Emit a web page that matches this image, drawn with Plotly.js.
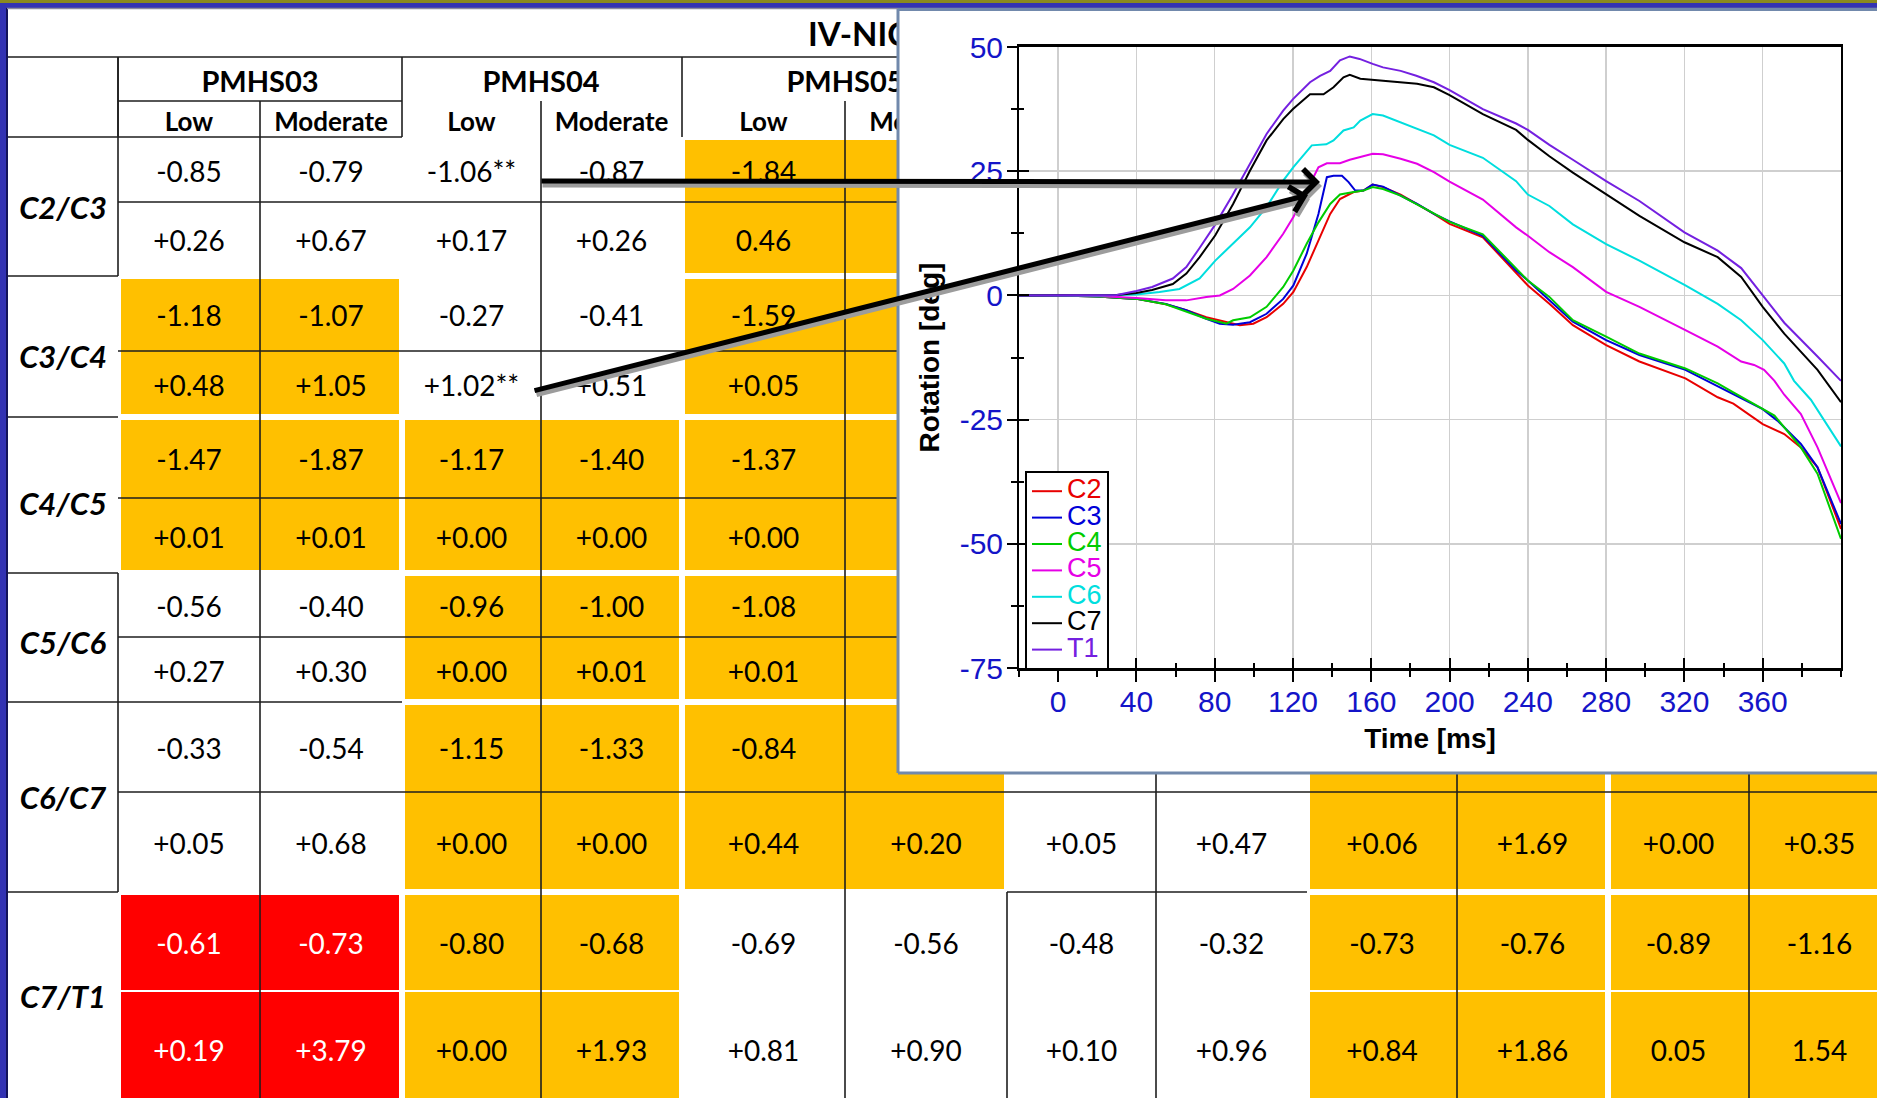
<!DOCTYPE html>
<html><head><meta charset="utf-8">
<script src="https://cdn.plot.ly/plotly-3.0.1.min.js"></script>
<style>html,body{margin:0;padding:0;background:#3333b3;overflow:hidden}</style>
</head><body><div id="chart" style="width:1877px;height:1098px"></div>
<script>
// ================= TABLE DATA =================
const tableTitle = 'IV-NIC';
const levels = ['C2/C3', 'C3/C4', 'C4/C5', 'C5/C6', 'C6/C7', 'C7/T1'];
const subjects = ['PMHS03', 'PMHS04', 'PMHS05', 'PMHS06', 'PMHS07', 'PMHS08'];
const speeds = ['Low', 'Moderate'];
// minimum (negative) values per level, 12 columns (Low/Moderate for each subject); '' = hidden by the inset
const negValues = [
  ['-0.85', '-0.79', '-1.06**', '-0.87', '-1.84', '', '', '', '', '', '', ''],
  ['-1.18', '-1.07', '-0.27', '-0.41', '-1.59', '', '', '', '', '', '', ''],
  ['-1.47', '-1.87', '-1.17', '-1.40', '-1.37', '', '', '', '', '', '', ''],
  ['-0.56', '-0.40', '-0.96', '-1.00', '-1.08', '', '', '', '', '', '', ''],
  ['-0.33', '-0.54', '-1.15', '-1.33', '-0.84', '', '', '', '', '', '', ''],
  ['-0.61', '-0.73', '-0.80', '-0.68', '-0.69', '-0.56', '-0.48', '-0.32', '-0.73', '-0.76', '-0.89', '-1.16']
];
// maximum (positive) values per level
const posValues = [
  ['+0.26', '+0.67', '+0.17', '+0.26', '0.46', '', '', '', '', '', '', ''],
  ['+0.48', '+1.05', '+1.02**', '+0.51', '+0.05', '', '', '', '', '', '', ''],
  ['+0.01', '+0.01', '+0.00', '+0.00', '+0.00', '', '', '', '', '', '', ''],
  ['+0.27', '+0.30', '+0.00', '+0.01', '+0.01', '', '', '', '', '', '', ''],
  ['+0.05', '+0.68', '+0.00', '+0.00', '+0.44', '+0.20', '+0.05', '+0.47', '+0.06', '+1.69', '+0.00', '+0.35'],
  ['+0.19', '+3.79', '+0.00', '+1.93', '+0.81', '+0.90', '+0.10', '+0.96', '+0.84', '+1.86', '0.05', '1.54']
];
// highlight of each level x subject block: w = none, o = orange, r = red
const blockShade = [
  ['w', 'w', 'o', 'w', 'w', 'w'],
  ['o', 'w', 'o', 'w', 'w', 'w'],
  ['o', 'o', 'o', 'w', 'w', 'w'],
  ['w', 'o', 'o', 'w', 'w', 'w'],
  ['w', 'o', 'o', 'w', 'o', 'o'],
  ['r', 'o', 'w', 'w', 'o', 'o']
];

// ================= CURVE DATA (rotation [deg] vs time [ms]) =================
const seriesNames = ['C2', 'C3', 'C4', 'C5', 'C6', 'C7', 'T1'];
const timeC2 = [-20, 0, 20, 30, 40, 55, 65.5, 75.7, 86, 92.8, 99.7, 106.5, 115, 120.2, 127, 133, 139, 144, 151, 156, 160.7, 166, 175, 192, 200, 217, 234, 240, 251, 263, 280, 297, 320.5, 337, 345, 360, 371, 379.5, 388, 400];
const rotC2 = [0, 0, -0.2, -0.4, -0.7, -1.8, -3, -4.4, -5.4, -6, -5.7, -4.4, -1.7, 0.7, 5.7, 11, 16.4, 19.4, 20.8, 21.1, 22.3, 21.8, 20.3, 16.4, 14.4, 11.7, 4.5, 2, -1.7, -6, -10, -13.3, -16.7, -20.5, -21.8, -25.9, -27.9, -30.6, -34.6, -47];
const timeC3 = [-20, 0, 20, 30, 40, 55, 65.5, 75.7, 82.6, 89.4, 98, 106.5, 115, 120.2, 127, 133, 137.3, 140.7, 145, 148.4, 151.8, 156, 160.7, 166, 175, 183.4, 192, 200, 217, 234, 240, 251, 263, 280, 297, 320.5, 337, 345, 360, 367.5, 379.5, 388, 400];
const rotC3 = [0, 0, -0.2, -0.4, -0.7, -1.7, -3, -4.7, -5.7, -5.9, -5.4, -3.7, -0.7, 2, 8.4, 16.4, 23.8, 24.1, 24.1, 22.8, 21.1, 21.1, 22.3, 21.9, 20.1, 18.4, 16.4, 14.9, 12, 5, 3, -1, -5.3, -9, -12, -15, -18.3, -19.8, -22.9, -25.2, -29.9, -34.6, -46];
const timeC4 = [-20, 0, 20, 30, 40, 55, 65.5, 75.7, 86, 89.4, 98, 106.5, 115, 120.2, 127, 133, 139, 144, 151, 156, 160.7, 166, 175, 192, 200, 217, 234, 240, 251, 263, 280, 297, 320.5, 337, 345, 360, 366, 379.5, 388, 400];
const rotC4 = [0, 0, -0.2, -0.4, -0.7, -1.8, -3.2, -4.7, -5.7, -5, -4.4, -2.3, 1.7, 5, 10.4, 14.7, 18.4, 20.3, 20.8, 21.1, 21.8, 21.4, 20.1, 16.4, 14.8, 12.3, 5.3, 3, -0.3, -5, -8.3, -11.7, -14.7, -17.7, -19.5, -22.9, -24.2, -30.6, -35.9, -49];
const timeC5 = [-20, 0, 20, 40, 55, 65.5, 75.7, 82.6, 89.4, 98, 106.5, 115, 120.2, 127, 133, 137.3, 144, 149, 154.4, 160.7, 166, 175, 183.4, 192, 200, 217, 234, 240, 251, 263, 280, 297, 320.5, 337, 349, 355.6, 360.7, 366, 371, 379.5, 388, 400];
const rotC5 = [0, 0, -0.1, -0.5, -1, -1, -0.3, 0, 1.3, 4, 7.7, 12.4, 15.8, 21.1, 25.8, 26.6, 26.6, 27.3, 27.9, 28.5, 28.4, 27.5, 26.5, 24.8, 22.9, 19.3, 13.7, 12, 8.7, 5.7, 0.7, -2.3, -7, -10.3, -13.3, -14, -15, -17.2, -20, -23.9, -30.6, -41.8];
const timeC6 = [-20, 0, 20, 40, 51.8, 62, 72.3, 80.3, 89.4, 98, 106.5, 115, 120.2, 129.6, 137, 140.7, 145.8, 151, 154.4, 160.7, 166, 175, 183.4, 192, 200, 217, 234, 240, 251, 263, 280, 297, 320.5, 337, 349, 360, 371, 376, 384.6, 400];
const rotC6 = [0, 0, 0, 0.2, 0.7, 1.3, 3.4, 7, 10.4, 13.7, 17.8, 23.1, 25.8, 30.2, 30.4, 31.2, 33.2, 33.8, 35.2, 36.5, 36.2, 34.8, 33.5, 32.2, 30.3, 27.7, 23, 20.3, 18, 14.3, 10.3, 7, 2, -1.7, -5, -9, -13.7, -17.2, -21, -30.4];
const timeC7 = [-20, 0, 20, 30, 40, 48, 58.6, 65.5, 72.3, 80.3, 89.4, 98, 106.5, 115, 120, 128.7, 135.6, 140.7, 145.8, 149, 154.4, 160.7, 175, 183.4, 192, 200, 217, 234, 240, 251, 263, 280, 297, 320, 337, 349, 360, 371, 388, 400];
const rotC7 = [0, 0, 0, 0.1, 0.5, 1.1, 2.3, 4.4, 7.7, 12.1, 18.4, 25.1, 31.2, 35.5, 37.5, 40.5, 40.5, 41.9, 43.9, 44.4, 43.6, 43.4, 42.9, 42.6, 41.9, 40.3, 36.5, 33.3, 31.3, 28, 24.7, 20.3, 16, 10.7, 7.7, 3.7, -2.3, -7.7, -15, -21.5];
const timeT1 = [-20, 0, 20, 30, 40, 48, 58.6, 65.5, 72, 80, 89, 98, 106.5, 115, 120, 128.7, 133.8, 139, 144, 149, 154, 160.7, 166, 175, 183, 192, 200, 217, 234, 240, 251, 263, 280, 297, 320, 337, 349, 360, 371, 388, 400];
const rotT1 = [0, 0, 0, 0.1, 0.9, 1.7, 3.4, 5.7, 9.4, 14.1, 20.1, 26.5, 32.5, 37.2, 39.5, 42.9, 44.2, 45.2, 47.3, 48.1, 47.6, 46.6, 45.9, 45.2, 44.2, 42.9, 41.3, 37.5, 34.6, 33.3, 30.3, 27.3, 23, 19, 12.7, 9, 5.5, 0, -5.5, -12.3, -17.2];
const xTickVals = [0, 40, 80, 120, 160, 200, 240, 280, 320, 360];
const xTickText = ['0', '40', '80', '120', '160', '200', '240', '280', '320', '360'];
const yTickVals = [-75, -50, -25, 0, 25, 50];
const yTickText = ['-75', '-50', '-25', '0', '25', '50'];

// ================= LAYOUT / STYLE CONSTANTS =================
const W = 1877, H = 1098;
const colEdges = [118, 260, 402, 541, 682, 845, 1007, 1156, 1307, 1457, 1608, 1749, 1890];
const rowEdges = [137, 202, 276, 351, 417, 498, 573, 637, 702, 792, 892, 991, 1106];
const labelColX = 63;
const titleRowY = 38, subjectRowY = 85, speedRowY = 124;
const valueShift = 5, labelShift = 9;
const shadeCode = {w: 0, o: 1, r: 2};
const seriesTimes = [timeC2, timeC3, timeC4, timeC5, timeC6, timeC7, timeT1];
const seriesRots = [rotC2, rotC3, rotC4, rotC5, rotC6, rotC7, rotT1];
const seriesColors = ['#e80000', '#0000d8', '#00cc00', '#e600e6', '#00dede', '#000000', '#7420e0'];
const tableFont = 'Lato, "Open Sans", sans-serif';
const chartFont = '"Liberation Sans", Arial, sans-serif';
const tickBlue = '#1414c8';

// table rules (dark lines) and white separators, in table pixel coordinates
const subjEdges = [118, 402, 682, 1007, 1307, 1608];
const speedEdges = [260, 541, 845, 1156, 1457, 1749];
const groupEdges = [137, 276, 417, 573, 702, 892];
const midEdges = [202, 351, 498, 637, 792];

const mid = a => a.slice(0, -1).map((v, i) => (v + a[i + 1]) / 2);
const colCenters = mid(colEdges);
const rowCenters = mid(rowEdges);

function segTrace(segs, color, width) {
  const xs = [], ys = [];
  segs.forEach(s => { xs.push(s[0], s[2], null); ys.push(s[1], s[3], null); });
  return {type: 'scatter', mode: 'lines', x: xs, y: ys, xaxis: 'x', yaxis: 'y',
    line: {color: color, width: width}, hoverinfo: 'skip', showlegend: false, connectgaps: false};
}

const traces = [];

// cell fills
const z = [];
for (let r = 0; r < 12; r++) {
  const row = [];
  for (let c = 0; c < 12; c++) row.push(shadeCode[blockShade[Math.floor(r / 2)][Math.floor(c / 2)]]);
  z.push(row);
}
traces.push({type: 'heatmap', x: colEdges, y: rowEdges, z: z, zmin: 0, zmax: 2,
  colorscale: [[0, '#ffffff'], [0.33, '#ffffff'], [0.33, '#ffc000'], [0.67, '#ffc000'], [0.67, '#ff0000'], [1, '#ff0000']],
  showscale: false, hoverinfo: 'skip', xaxis: 'x', yaxis: 'y'});

// white separators
const whiteSegs = [];
subjEdges.forEach(x => whiteSegs.push([x, 137, x, 1106]));
groupEdges.forEach(y => whiteSegs.push([118, y, 1890, y]));
traces.push(segTrace(whiteSegs, '#ffffff', 6));
traces.push(segTrace([[118, 991, 1890, 991]], '#ffffff', 2));

// dark rules
const darkSegs = [[8, 57, 1890, 57], [118, 101, 402, 101], [8, 137, 402, 137],
  [118, 57, 118, 276], [118, 573, 118, 892], [118, 702, 402, 702], [1007, 892, 1307, 892], [1007, 892, 1007, 1106]];
subjEdges.forEach(x => darkSegs.push([x, 57, x, 137]));
speedEdges.forEach(x => darkSegs.push([x, 101, x, 1106]));
midEdges.forEach(y => darkSegs.push([118, y, 1890, y]));
groupEdges.slice(1).forEach(y => darkSegs.push([8, y, 118, y]));
traces.push(segTrace(darkSegs, '#1e1e1e', 1.6));

// title
traces.push({type: 'scatter', mode: 'text', x: [808], y: [titleRowY], text: ['<b>' + tableTitle + '</b>'],
  textposition: 'middle right', textfont: {family: tableFont, size: 33, color: '#000'},
  xaxis: 'x', yaxis: 'y', hoverinfo: 'skip', showlegend: false});
// subject headers
traces.push({type: 'scatter', mode: 'text', x: subjects.map((s, i) => colEdges[2 * i + 1]), y: subjects.map(() => subjectRowY),
  text: subjects.map(s => '<b>' + s + '</b>'), textposition: 'middle center',
  textfont: {family: tableFont, size: 29, color: '#000'}, xaxis: 'x', yaxis: 'y', hoverinfo: 'skip', showlegend: false});
// Low / Moderate
traces.push({type: 'scatter', mode: 'text', x: colCenters, y: colCenters.map(() => speedRowY),
  text: colCenters.map((c, i) => '<b>' + speeds[i % 2] + '</b>'), textposition: 'middle center',
  textfont: {family: tableFont, size: 26, color: '#000'}, xaxis: 'x', yaxis: 'y', hoverinfo: 'skip', showlegend: false});
// level labels
traces.push({type: 'scatter', mode: 'text', x: levels.map(() => labelColX), y: levels.map((l, i) => rowEdges[2 * i + 1] + labelShift),
  text: levels.map(l => '<b><i>' + l + '</i></b>'), textposition: 'middle center',
  textfont: {family: tableFont, size: 31, color: '#000'}, xaxis: 'x', yaxis: 'y', hoverinfo: 'skip', showlegend: false});
// cell values
const cx = [], cy = [], ct = [], cc = [];
for (let r = 0; r < 12; r++) {
  const lv = Math.floor(r / 2);
  const vals = r % 2 === 0 ? negValues[lv] : posValues[lv];
  for (let c = 0; c < 12; c++) {
    if (vals[c] === '') continue;
    cx.push(colCenters[c]); cy.push(rowCenters[r] + valueShift); ct.push(vals[c]);
    cc.push(blockShade[lv][Math.floor(c / 2)] === 'r' ? '#ffffff' : '#000000');
  }
}
traces.push({type: 'scatter', mode: 'text', x: cx, y: cy, text: ct, textposition: 'middle center',
  textfont: {family: tableFont, size: 28, color: cc}, xaxis: 'x', yaxis: 'y', hoverinfo: 'skip', showlegend: false});

// inset box subplot (white panel)
traces.push({type: 'scatter', x: [], y: [], xaxis: 'x2', yaxis: 'y2', showlegend: false, hoverinfo: 'skip'});

// curves
seriesNames.forEach((n, i) => {
  traces.push({type: 'scatter', mode: 'lines', x: seriesTimes[i], y: seriesRots[i], xaxis: 'x3', yaxis: 'y3',
    name: '<span style="font-size:27px;color:' + seriesColors[i] + '">' + n + '</span>',
    line: {color: seriesColors[i], width: 2}, hoverinfo: 'skip'});
});
// overlay axes for inward tick halves
traces.push({type: 'scatter', x: [], y: [], xaxis: 'x4', yaxis: 'y4', showlegend: false, hoverinfo: 'skip'});

const px = v => v / W;
const py = v => 1 - v / H;
const hidden = {showgrid: false, zeroline: false, showticklabels: false, showline: false, ticks: '', fixedrange: true};

const layout = {
  width: W, height: H, margin: {l: 0, r: 0, t: 0, b: 0, pad: 0},
  paper_bgcolor: '#3333b3', plot_bgcolor: '#ffffff',
  showlegend: true,
  xaxis: Object.assign({domain: [px(8), 1], range: [8, W], anchor: 'y'}, hidden),
  yaxis: Object.assign({domain: [0, py(9)], range: [H, 9], anchor: 'x'}, hidden),
  xaxis2: Object.assign({domain: [px(898), 1], range: [0, 1], anchor: 'y2'}, hidden),
  yaxis2: Object.assign({domain: [py(773), py(9)], range: [0, 1], anchor: 'x2'}, hidden),
  xaxis3: {domain: [px(1019), px(1841)], range: [-20, 400], anchor: 'y3', tickmode: 'array', tickvals: xTickVals, ticktext: xTickText,
    ticks: 'outside', ticklen: 11, tickwidth: 2, tickcolor: '#000', ticklabelstandoff: -6,
    minor: {tickmode: 'linear', tick0: 0, dtick: 20, ticks: 'outside', ticklen: 6, tickwidth: 2, tickcolor: '#000', showgrid: false},
    showgrid: true, gridcolor: '#cfcfcf', gridwidth: 1.5, zeroline: false,
    showline: true, linecolor: '#000', linewidth: 3, mirror: true,
    tickfont: {family: chartFont, size: 30, color: tickBlue},
    title: {text: '<b>Time [ms]</b>', font: {family: chartFont, size: 28, color: '#000'}, standoff: 12}},
  yaxis3: {domain: [py(668), py(47)], range: [-75, 50], anchor: 'x3', tickmode: 'array', tickvals: yTickVals, ticktext: yTickText,
    ticks: 'outside', ticklen: 10, tickwidth: 2, tickcolor: '#000', ticklabelstandoff: -2,
    minor: {tickmode: 'linear', tick0: 0, dtick: 12.5, ticks: 'outside', ticklen: 6, tickwidth: 2, tickcolor: '#000', showgrid: false},
    showgrid: true, gridcolor: '#cfcfcf', gridwidth: 1.5, zeroline: false,
    showline: true, linecolor: '#000', linewidth: 2, mirror: true,
    tickfont: {family: chartFont, size: 30, color: tickBlue},
    title: {text: '<b>Rotation [deg]</b>', font: {family: chartFont, size: 28, color: '#000'}, standoff: 12}},
  xaxis4: {overlaying: 'x3', anchor: 'y3', range: [-20, 400], tickmode: 'array', tickvals: xTickVals,
    ticks: 'inside', ticklen: 10, tickwidth: 2, tickcolor: '#000', showticklabels: false, showgrid: false, zeroline: false, showline: false,
    minor: {tickmode: 'linear', tick0: 0, dtick: 20, ticks: 'inside', ticklen: 5, tickwidth: 2, tickcolor: '#000', showgrid: false}},
  yaxis4: {overlaying: 'y3', anchor: 'x3', range: [-75, 50], tickmode: 'array', tickvals: yTickVals,
    ticks: 'inside', ticklen: 10, tickwidth: 2, tickcolor: '#000', showticklabels: false, showgrid: false, zeroline: false, showline: false,
    minor: {tickmode: 'linear', tick0: 0, dtick: 12.5, ticks: 'inside', ticklen: 5, tickwidth: 2, tickcolor: '#000', showgrid: false}},
  legend: {x: px(1025), y: py(471), xanchor: 'left', yanchor: 'top', bgcolor: '#ffffff', bordercolor: '#000', borderwidth: 2,
    font: {family: chartFont, size: 18, color: '#000'}, itemwidth: 30, tracegroupgap: 0},
  shapes: [
    {type: 'rect', xref: 'paper', yref: 'paper', x0: 0, x1: 1, y0: py(3), y1: 1, fillcolor: '#8a8a1e', line: {width: 0}, layer: 'above'},
    {type: 'line', xref: 'paper', yref: 'paper', x0: px(7), x1: px(7), y0: 0, y1: py(8), line: {color: '#14145a', width: 2}, layer: 'above'},
    {type: 'line', xref: 'paper', yref: 'paper', x0: px(7), x1: 1, y0: py(8.5), y1: py(8.5), line: {color: '#8a8aa0', width: 1.5}, layer: 'above'},
    {type: 'line', xref: 'paper', yref: 'paper', x0: px(898), x1: px(898), y0: py(773), y1: py(9), line: {color: '#7189ac', width: 3}, layer: 'above'},
    {type: 'line', xref: 'paper', yref: 'paper', x0: px(898), x1: 1, y0: py(773), y1: py(773), line: {color: '#7189ac', width: 3}, layer: 'above'},
    {type: 'line', xref: 'paper', yref: 'paper', x0: px(898), x1: 1, y0: py(9.5), y1: py(9.5), line: {color: '#7189ac', width: 3}, layer: 'above'}
  ],
  annotations: [
    {xref: 'x', yref: 'y', axref: 'x', ayref: 'y', x: 1322, y: 186, ax: 541, ay: 185, text: '', showarrow: true,
      arrowhead: 4, arrowsize: 1, arrowwidth: 5, arrowcolor: '#9c9c9c', standoff: 0},
    {xref: 'x', yref: 'y', axref: 'x', ayref: 'y', x: 1310, y: 199, ax: 535, ay: 395, text: '', showarrow: true,
      arrowhead: 4, arrowsize: 1, arrowwidth: 5, arrowcolor: '#9c9c9c', standoff: 0},
    {xref: 'x', yref: 'y', axref: 'x', ayref: 'y', x: 1320, y: 182, ax: 540, ay: 181, text: '', showarrow: true,
      arrowhead: 4, arrowsize: 1, arrowwidth: 5, arrowcolor: '#000000', standoff: 0},
    {xref: 'x', yref: 'y', axref: 'x', ayref: 'y', x: 1308, y: 195, ax: 533, ay: 391, text: '', showarrow: true,
      arrowhead: 4, arrowsize: 1, arrowwidth: 5, arrowcolor: '#000000', standoff: 0}
  ]
};

Plotly.newPlot('chart', traces, layout, {displayModeBar: false, staticPlot: true});
</script></body></html>
